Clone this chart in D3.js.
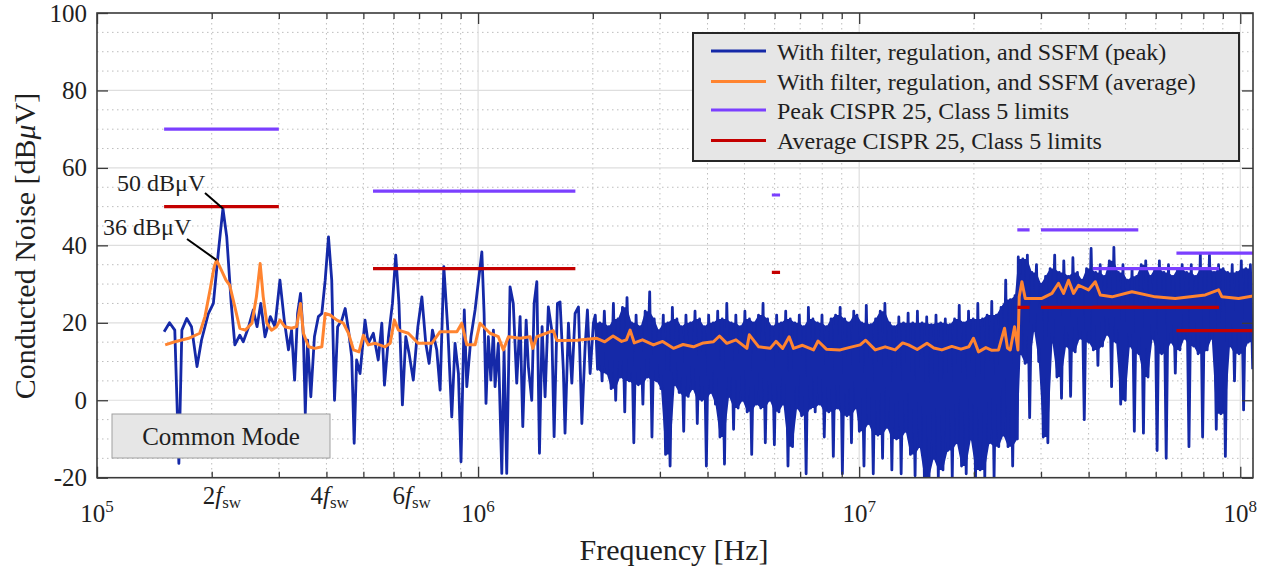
<!DOCTYPE html>
<html>
<head>
<meta charset="utf-8">
<script src="https://cdn.jsdelivr.net/npm/d3@7"></script>
<style>
  body { margin: 0; background: #fff; }
  text { font-family: "Liberation Serif", "Times New Roman", serif; fill: #1f1f1f; }
</style>
</head>
<body>
<svg id="chart" width="1272" height="569"></svg>
<script>
// ---- data ----
// peak detector, low band: frequency in kHz and level in dBuV
const peakSweepKHz = [150,155,160,164,167,172,177,183,188,196,202,208,214,219,225,230,237,242,250,257,
  263,269,276,285,293,302,310,318,324,330,336,342,348,352,357,364,372,381,389,397,
  405,413,420,428,439,448,457,466,473,480,490,505,515,531,547,559,568,582,596,608,
  620,633,646,659,676,695,712,729,744,759,779,795,813,833,853,870,888,902,920,934,
  958,982,1023,1037,1049,1064,1080,1097,1108,1130,1154,1170,1189,1213,1237,1263,1289,1310,1337,1355,
  1383,1403,1426,1449,1472,1499,1529,1561,1583,1615,1641,1674,1691,1726,1762,1797,1834,1872,1909,1936,
  1968,2007];
const peakSweepVals = [17.7,20.0,18.1,-16.3,18.1,21.1,19,8.7,15.5,22.4,25,37.9,49.5,42.2,25,14.3,16.8,15.1,19,23.3,
  19,25,16.4,21.6,19,31,20.7,13,18.1,5.2,22.4,27.6,16.4,-3.4,15.5,0.9,16.4,21.6,22.4,31,
  42.2,31,0,19,20.7,23.7,18.1,11.2,-11.1,10.4,6.9,20.7,14.7,17.3,10.4,19.9,3.9,16.4,25,37.5,
  25,-1.2,16.4,12.1,5.2,19,26.7,14.7,9.5,18.1,13,2.6,34.5,18.1,-4.3,14.7,6.9,-15.9,23.3,3.5,
  16.4,23.3,38.3,22.4,-0.8,16.4,5.2,18.1,3.5,14.7,-18.9,13,-18.9,29.3,25,4.4,21.6,-6.8,20.7,8.7,
  0,25,30.6,-13.7,19,0.9,24.1,18.1,-9.4,25,25.4,7.8,-8.5,19.9,4.4,22.4,24.1,-6,13.8,23.3,
  6.9,19.9];

// peak detector, dense sweeps (start/stop Hz, points evenly spaced on the log sweep,
// values alternate local maximum / local minimum)
const bandC1 = [2.03e6, 9.81e6];
const denseC1 = [22,8,20,5,23,7,19,3,25,0,
  21,6,24,-3,26.5,5,20,-11,22,4,
  19,-1,23,6,28,-9.5,21,5,18,3,
  22,-14,20,-17,24,4,21,2,19,-8,
  22,1,20,3,23,-6,21,0,19,-17,
  22,2,20,-1,23,-9.5,21,-16.5,25,1,
  20,-7.5,22,-2,19,0,23,-3,21,-14,
  20,-1,22,-2,25,-11,21,0,19,-11.5,
  22,-3,20,-1,23,-17,21,-12,20,-2,
  22,-4,19,-19,24,-2,21,-3,20,-1,
  22,-9.5,19,-3,21,-14.5,22,-2,24,-19,
  21,-4,20,-11,23,-2];
const bandC2 = [9.87e6, 26.0e6];
const denseC2 = [22,-8,20,-17,24.5,-6,19.5,-19,21,-9,
  23,-15,25,-7,20,-18,19,-10,21.5,-19,
  20,-8,22.5,-14,20,-19.5,23,-12,20,-20,
  21.5,-20,19.5,-15,22,-20,20,-18,21,-13,
  19.5,-20,21,-11,24.5,-17,20,-19,23,-10,
  21,-20,25,-18,21,-20,22,-11,25.5,-20,
  22,-12,24,-9,31,-12,26,-17,27,-10];
const bandD = [26.15e6, 107.8e6];
const denseD = [37,12,36.5,9.5,37.5,-4.5,33,18,35,10,
  30,-9.5,32,-11,34,15,37.5,6,33,0.5,
  36,14,32,1,36.8,12.5,33,16,31,-5,
  34,15,39.2,13,33,9,35,14,32,17,
  36,3.5,39.5,15,33,-1,35,0,31,14,
  34,-8,32,12,35,-8.5,36,6,32,16,
  34,-13,36,12,33,-15,35,15,32,7,
  34,13,35,16,33,-12,35,14,32,12,
  37.8,-9.5,34,13,37.5,16,33,-7.5,35,-3.5,
  34,-14.5,33,14,35,5,33,12,36,-2.5,
  34,15,35,8];

// average detector: frequency in kHz and level in dBuV
const avgKHz = [151,160,174,186,192,198,203,206,212,218,
  223,230,237,245,255,262,268,273,279,287,
  296,302,311,324,334,342,348,359,373,389,
  397,409,426,443,457,471,487,500,515,537,
  570,588,603,618,656,697,756,795,836,880,
  906,934,982,1012,1075,1130,1165,1201,1289,1369,
  1392,1426,1574,1609,1816,2049,2150,2260,2380,2450,
  2506,2570,2700,2885,3050,3255,3450,3674,3900,4146,
  4300,4495,4750,5074,5150,5450,5840,6050,6300,6550,
  6725,7100,7590,7800,8200,8916,9400,10060,10400,11020,
  11700,12430,13000,13470,14200,15060,15700,16480,17500,18500,
  19400,19950,20560,21500,22300,23210,24070,24500,24910,25570,
  26100,26300,26730,27270,30170,32050,33350,34380,35430,36520,
  37640,39990,41640,42920,46060,51970,59830,67510,80950,87700,
  89510,98970,108000];
const avgVals = [14.3,15.1,16,17.3,21.6,28.5,34.5,36.2,33.6,31,
  29.7,24.1,18.6,18.1,19.9,26.7,35.3,26.7,19.9,18.1,
  19,20.7,19,18.6,19,25,17.3,13.8,13.4,13.8,
  22.4,22,20.7,19.9,17.3,13,12.5,16.8,14.3,14.7,
  13.8,14.7,20.7,18.1,17.3,14.7,14.7,17.7,17.7,17.7,
  19.9,14.3,14.3,19.9,17.3,16.4,13,16.4,16,16.4,
  13.4,16.4,18,15.4,15.5,16,15.1,16.6,15.2,15.6,
  18.1,14.8,15.6,14.3,15.2,13.4,14.4,13.8,14.8,15.1,
  16.6,14.7,15.6,13.4,16.9,13.8,13.4,15.2,13.4,16.4,
  13.4,14.2,13,15.3,13.2,13,13.6,14.3,15.5,13,
  13.8,13,14.8,14.3,13.1,14.7,13.5,13,13.9,13.2,
  13.8,16,12.5,13.6,12.9,13,18.6,13.5,13,19,
  13,26.7,30.6,26.3,26.3,27.6,30.2,27.6,31,27.6,
  29.7,28.5,30.6,27.2,26.7,28,26.7,26.3,27.2,28.5,
  26.7,26.3,26.9];

// CISPR 25 class 5 limits: [start Hz, stop Hz, dBuV]
const peakLimits = [[150e3,300e3,70],[530e3,1.8e6,54],[5.9e6,6.2e6,53],[26e6,28e6,44],[30e6,54e6,44],[41e6,88e6,34],[68e6,108e6,38]];
const avgLimits  = [[150e3,300e3,50],[530e3,1.8e6,34],[5.9e6,6.2e6,33],[26e6,28e6,24],[30e6,54e6,24],[41e6,88e6,24],[68e6,108e6,18]];

const yTicks = [-20,0,20,40,60,80,100];
const decades = [1e5,1e6,1e7,1e8];
const harmonicLabels = [{n:"2", f:2e5}, {n:"4", f:4e5}, {n:"6", f:6e5}];
const legendItems = ["With filter, regulation, and SSFM (peak)","With filter, regulation, and SSFM (average)",
  "Peak CISPR 25, Class 5 limits","Average CISPR 25, Class 5 limits"];

// ---- chart ----
const W = 1272, H = 569;
const margin = {top: 13, right: 19, bottom: 91.3, left: 97};
const width = W - margin.left - margin.right;
const height = H - margin.top - margin.bottom;
const colors = {peak: "#1529a8", avg: "#ff8430", plim: "#7b3fff", alim: "#c40000"};

const x = d3.scaleLog().domain([1e5, 1.08e8]).range([0, width]);
const y = d3.scaleLinear().domain([-20, 100]).range([height, 0]);

function spread(band, vals) {
  const a = Math.log10(band[0]), b = Math.log10(band[1]);
  return vals.map((v, i) => ({f: Math.pow(10, a + (b - a) * i / (vals.length - 1)), v: v}));
}
// solid core of a dense sweep: between the max/min samples, ignoring isolated spikes
function core(pts) {
  const hi = pts.filter((d, i) => i % 2 === 0), lo = pts.filter((d, i) => i % 2 === 1);
  return lo.map((l, k) => {
    const hn = [hi[k - 1], hi[k + 1]].filter(Boolean).map(d => d.v);
    const ln = [lo[k - 1], lo[k + 1]].filter(Boolean).map(d => d.v);
    return {fh: hi[k].f, top: Math.min(hi[k].v, Math.max(...hn)),
            fl: l.f, bot: Math.max(l.v, Math.min(...ln))};
  });
}
const dense = [].concat(spread(bandC1, denseC1), spread(bandC2, denseC2), spread(bandD, denseD));
const peak = peakSweepKHz.map((f, i) => ({f: f * 1e3, v: peakSweepVals[i]})).concat(dense);
const avg = avgKHz.map((f, i) => ({f: f * 1e3, v: avgVals[i]}));

const svg = d3.select("#chart");
const g = svg.append("g").attr("transform", "translate(" + margin.left + "," + margin.top + ")");

svg.append("defs").append("clipPath").attr("id", "clip")
  .append("rect").attr("width", width).attr("height", height);

// grid
const minorX = [];
decades.forEach(d => { for (let k = 2; k <= 9; k++) if (d * k <= 1.08e8) minorX.push(d * k); });
const minorY = d3.range(-15, 100, 5).filter(v => v % 20 !== 0);
g.append("g").selectAll("line").data(minorX).enter().append("line")
  .attr("x1", d => x(d)).attr("x2", d => x(d)).attr("y1", 0).attr("y2", height)
  .attr("stroke", "#bdbdbd").attr("stroke-width", 1).attr("stroke-dasharray", "1.5,3.5");
g.append("g").selectAll("line").data(minorY).enter().append("line")
  .attr("x1", 0).attr("x2", width).attr("y1", d => y(d)).attr("y2", d => y(d))
  .attr("stroke", "#bdbdbd").attr("stroke-width", 1).attr("stroke-dasharray", "1.5,3.5");
g.append("g").selectAll("line").data(decades.slice(1)).enter().append("line")
  .attr("x1", d => x(d)).attr("x2", d => x(d)).attr("y1", 0).attr("y2", height)
  .attr("stroke", "#dedede").attr("stroke-width", 1.2);
g.append("g").selectAll("line").data(yTicks.slice(1, -1)).enter().append("line")
  .attr("x1", 0).attr("x2", width).attr("y1", d => y(d)).attr("y2", d => y(d))
  .attr("stroke", "#dedede").attr("stroke-width", 1.2);

// traces
const line = d3.line().x(d => x(d.f)).y(d => y(d.v));
const band = d3.area().x0(d => x(d.fl)).y0(d => y(d.bot)).x1(d => x(d.fh)).y1(d => y(d.top));
const plot = g.append("g").attr("clip-path", "url(#clip)");
plot.append("path").datum(core(dense)).attr("d", band).attr("fill", colors.peak);
plot.append("path").datum(peak).attr("d", line)
  .attr("fill", "none").attr("stroke", colors.peak).attr("stroke-width", 2.8).attr("stroke-linejoin", "round");
plot.append("path").datum(avg).attr("d", line)
  .attr("fill", "none").attr("stroke", colors.avg).attr("stroke-width", 3).attr("stroke-linejoin", "round");

// limits
[[peakLimits, colors.plim], [avgLimits, colors.alim]].forEach(([lims, c]) => {
  plot.append("g").selectAll("line").data(lims).enter().append("line")
    .attr("x1", d => x(d[0])).attr("x2", d => x(d[1]))
    .attr("y1", d => y(d[2])).attr("y2", d => y(d[2]))
    .attr("stroke", c).attr("stroke-width", 3.2);
});

// axes (ticks only, decade labels drawn separately)
const axisColor = "#3a3a3a";
function styleAxis(sel) {
  sel.select(".domain").remove();
  sel.selectAll("line").attr("stroke", axisColor).attr("stroke-width", 1.3);
}
g.append("g").attr("transform", "translate(0," + height + ")")
  .call(d3.axisBottom(x).tickValues(decades).tickSizeInner(-11).tickSizeOuter(0).tickFormat(""))
  .call(styleAxis);
g.append("g").attr("transform", "translate(0," + height + ")")
  .call(d3.axisBottom(x).tickValues(minorX).tickSizeInner(-6).tickSizeOuter(0).tickFormat(""))
  .call(styleAxis);
g.append("g")
  .call(d3.axisTop(x).tickValues(decades).tickSizeInner(-11).tickSizeOuter(0).tickFormat(""))
  .call(styleAxis);
g.append("g")
  .call(d3.axisTop(x).tickValues(minorX).tickSizeInner(-6).tickSizeOuter(0).tickFormat(""))
  .call(styleAxis);
g.append("g")
  .call(d3.axisLeft(y).tickValues(yTicks).tickSizeInner(-11).tickSizeOuter(0).tickPadding(10)
    .tickFormat(d => String(d)))
  .call(styleAxis)
  .call(a => a.selectAll("text").style("font-size", "25px").attr("fill", "#1f1f1f")
    .style("font-family", "'Liberation Serif', serif"));
g.append("g").attr("transform", "translate(" + width + ",0)")
  .call(d3.axisRight(y).tickValues(yTicks).tickSizeInner(-11).tickSizeOuter(0).tickFormat(""))
  .call(styleAxis);
g.append("rect").attr("width", width).attr("height", height)
  .attr("fill", "none").attr("stroke", axisColor).attr("stroke-width", 1.6);

// x tick labels 10^n
decades.forEach(d => {
  const t = g.append("text").attr("x", x(d)).attr("y", height + 44).attr("text-anchor", "middle")
    .style("font-size", "25px");
  t.append("tspan").text("10");
  t.append("tspan").attr("dy", -10).style("font-size", "17px").text(Math.round(Math.log10(d)));
});
const harmX = {"2": -9, "4": -16, "6": -1};
harmonicLabels.forEach(h => {
  const t = g.append("text").attr("x", x(h.f) + harmX[h.n]).attr("y", height + 26)
    .style("font-size", "25px");
  t.append("tspan").text(h.n);
  t.append("tspan").style("font-style", "italic").text("f");
  t.append("tspan").attr("dy", 4).style("font-size", "17px").text("sw");
});

// axis titles
svg.append("text").attr("x", margin.left + width / 2 - 1).attr("y", 560)
  .attr("text-anchor", "middle").style("font-size", "30px").text("Frequency [Hz]");
const yl = svg.append("text").attr("transform", "translate(35,246) rotate(-90)")
  .attr("text-anchor", "middle").style("font-size", "30px");
yl.append("tspan").text("Conducted Noise [dB");
yl.append("tspan").style("font-style", "italic").text("\u03bc");
yl.append("tspan").text("V]");

// annotations
const notes = [{label: "50 dB\u03bcV", f: 214e3, v: 49.5, tx: 20, ty: 178, lx: 108, ly: 180},
               {label: "36 dB\u03bcV", f: 206e3, v: 36.2, tx: 6, ty: 222, lx: 90, ly: 226}];
notes.forEach(n => {
  g.append("line").attr("x1", n.lx).attr("y1", n.ly).attr("x2", x(n.f)).attr("y2", y(n.v))
    .attr("stroke", "#000").attr("stroke-width", 2);
  g.append("text").attr("x", n.tx).attr("y", n.ty).style("font-size", "24px").text(n.label);
});

// "Common Mode" box
g.append("rect").attr("x", 15).attr("y", 401).attr("width", 218).attr("height", 44)
  .attr("fill", "#e6e6e6").attr("stroke", "#a0a0a0").attr("stroke-width", 1);
g.append("text").attr("x", 124).attr("y", 432).attr("text-anchor", "middle")
  .style("font-size", "25px").text("Common Mode");

// legend
const legend = g.append("g").attr("transform", "translate(596,20)");
legend.append("rect").attr("width", 546).attr("height", 128)
  .attr("fill", "#e6e6e6").attr("stroke", "#262626").attr("stroke-width", 2);
const legendColors = [colors.peak, colors.avg, colors.plim, colors.alim];
const rowY = [18, 48.5, 77, 107.5];
legendItems.forEach((name, i) => {
  legend.append("line").attr("x1", 18).attr("x2", 73).attr("y1", rowY[i]).attr("y2", rowY[i])
    .attr("stroke", legendColors[i]).attr("stroke-width", 3.2);
  legend.append("text").attr("x", 84).attr("y", rowY[i] + 8.5).style("font-size", "24px").text(name);
});
</script>
</body>
</html>
